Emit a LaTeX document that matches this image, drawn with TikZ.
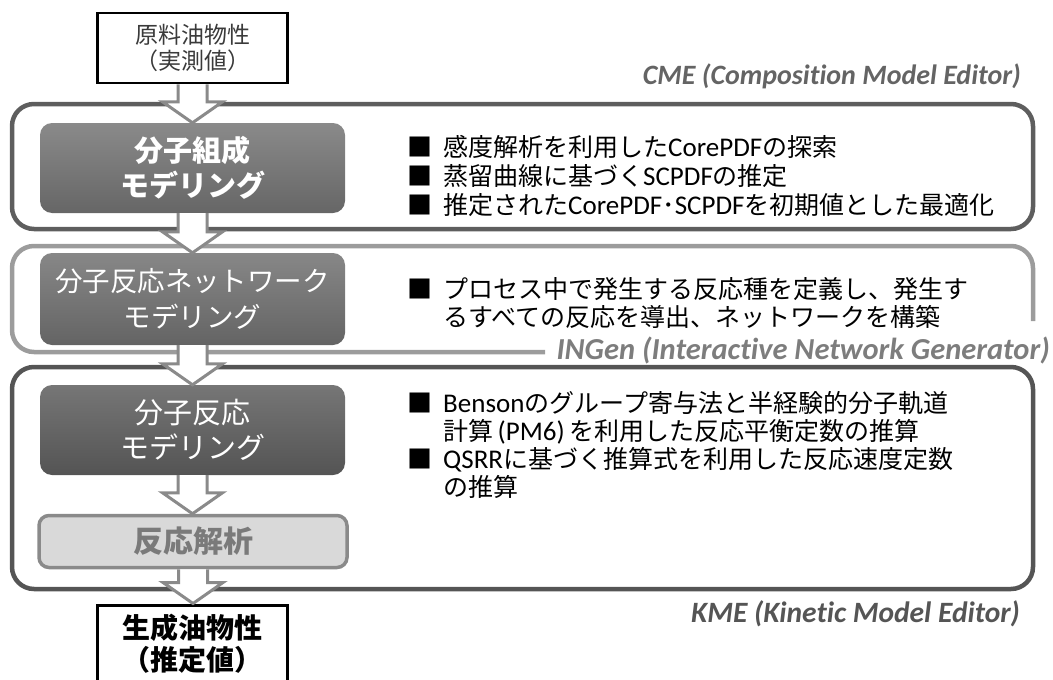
\documentclass[tikz,border=0pt]{standalone}
\usepackage{fontspec}
\setmainfont{Noto Sans CJK JP}
\newfontfamily\lat{Carlito}[Ligatures=NoCommon]
\newfontfamily\latb{Carlito}[Scale=1.08]
\usetikzlibrary{calc}
\definecolor{cmegray}{HTML}{5E5E5E}
\definecolor{ingray}{HTML}{9C9C9C}
\definecolor{kmegray}{HTML}{555555}
\definecolor{arrgray}{HTML}{8A8A8A}
\newcommand\blockarrow[2]{%
  \path[barrowfill] let \p1=(#1.south), \p2=(#2.north) in
    (\x1-14.5pt,\y1) -- (\x1-14.5pt,\y2+21pt) -- (\x1-30pt,\y2+21pt) -- (\x1,\y2)
    -- (\x1+30pt,\y2+21pt) -- (\x1+14.5pt,\y2+21pt) -- (\x1+14.5pt,\y1) -- cycle;
  \draw[barrowline] let \p1=(#1.south), \p2=(#2.north) in
    (\x1-14.5pt,\y1) -- (\x1-14.5pt,\y2+21pt) -- (\x1-30pt,\y2+21pt) -- (\x1,\y2)
    -- (\x1+30pt,\y2+21pt) -- (\x1+14.5pt,\y2+21pt) -- (\x1+14.5pt,\y1);}
\begin{document}
\begin{tikzpicture}[x=1pt,y=-1pt,
  cont/.style={line width=4.5pt, rounded corners=22pt},
  dbox/.style={rounded corners=12pt, minimum width=305pt, text=white, align=center, inner sep=0pt},
  barrowfill/.style={fill=white},
  barrowline/.style={draw=arrgray, line width=3pt, line join=miter},
  btxt/.style={anchor=base west, inner sep=0pt, font=\fontsize{25pt}{29pt}\selectfont, text=black},
  lbl/.style={anchor=east, inner sep=0pt, font=\lat\bfseries\itshape\fontsize{28pt}{32pt}\selectfont}]
\useasboundingbox (0,0) rectangle (1053,680);

% containers
\draw[cont, draw=cmegray] (12,104) rectangle (1033,229);
\draw[cont, draw=ingray] (545,352) -- (12,352) -- (12,246) -- (1033,246) -- (1033,321);
\draw[cont, draw=kmegray] (12,367) rectangle (1033,589);

% left column
\node[draw=black, line width=2.5pt, fill=white, minimum width=190pt, minimum height=70pt,
      align=center, inner sep=0pt, text={rgb,255:red,58;green,58;blue,58},
      font=\fontsize{23pt}{26pt}\selectfont] (src) at (192.5,48) {原料油物性\\（実測値）};
\node[dbox, top color={rgb,255:red,138;green,138;blue,138}, bottom color={rgb,255:red,102;green,102;blue,102},
      minimum height=90pt, font=\fontsize{29pt}{35pt}\selectfont\bfseries] (m1) at (192.5,168) {分子組成\\モデリング};
\node[dbox, top color={rgb,255:red,135;green,135;blue,135}, bottom color={rgb,255:red,100;green,100;blue,100},
      minimum height=92pt, font=\fontsize{27.5pt}{36pt}\selectfont] (m2) at (192.5,299) {分子反応ネットワーク\\モデリング};
\node[dbox, top color={rgb,255:red,118;green,118;blue,118}, bottom color={rgb,255:red,84;green,84;blue,84},
      minimum height=90pt, font=\fontsize{29pt}{35pt}\selectfont] (m3) at (192.5,430) {分子反応\\モデリング};
\node[rounded corners=10pt, draw=arrgray, line width=3.5pt, fill={rgb,255:red,217;green,217;blue,217},
      minimum width=308pt, minimum height=52pt, inner sep=0pt, text={rgb,255:red,122;green,122;blue,122},
      font=\fontsize{30pt}{34pt}\selectfont\bfseries] (m4) at (193,541.5) {反応解析};
\node[draw=black, line width=3pt, fill=white, minimum width=190pt, minimum height=100pt, inner sep=0pt] (dst) at (192.5,655) {};
\node[align=center, inner sep=0pt, text=black, font=\fontsize{28pt}{32pt}\selectfont\bfseries] (dsttxt) at (192.5,644) {生成油物性\\（推定値）};

% arrows
\blockarrow{src}{m1}
\blockarrow{m1}{m2}
\blockarrow{m2}{m3}
\blockarrow{m3}{m4}
\blockarrow{m4}{dst}

% labels
\node[lbl, text={rgb,255:red,100;green,100;blue,100}] (cme) at (1021,76) {CME (Composition Model Editor)};
\node[lbl, text={rgb,255:red,125;green,125;blue,125}, font=\lat\bfseries\itshape\fontsize{30.5pt}{34pt}\selectfont] (ingen) at (1050,350) {INGen (Interactive Network Generator)};
\node[lbl, text={rgb,255:red,85;green,85;blue,85}, font=\lat\bfseries\itshape\fontsize{29.5pt}{33pt}\selectfont] (kme) at (1020,614) {KME (Kinetic Model Editor)};

% bullets CME
\node[btxt] (cb1) at (407,156) {■};
\node[btxt] (ct1) at (443,156) {感度解析を利用した{\latb CorePDF}の探索};
\node[btxt] (cb2) at (407,185) {■};
\node[btxt] (ct2) at (443,185) {蒸留曲線に基づく{\latb SCPDF}の推定};
\node[btxt] (cb3) at (407,214) {■};
\node[btxt] (ct3) at (443,214) {推定された{\latb CorePDF}･{\latb SCPDF}を初期値とした最適化};
% bullets INGen
\node[btxt] (ib1) at (407,298) {■};
\node[btxt] (it1) at (443,298) {プロセス中で発生する反応種を定義し、発生す};
\node[btxt] (it2) at (443,326.5) {るすべての反応を導出、ネットワークを構築};
% bullets KME
\node[btxt] (kb1) at (407,412) {■};
\node[btxt] (kt1) at (443,412) {{\latb Benson}のグループ寄与法と半経験的分子軌道};
\node[btxt] (kt2) at (443,440) {計算{\latb\,(PM6)\,}を利用した反応平衡定数の推算};
\node[btxt] (kb2) at (407,468) {■};
\node[btxt] (kt3) at (443,468) {{\latb QSRR}に基づく推算式を利用した反応速度定数};
\node[btxt] (kt4) at (443,496) {の推算};
\end{tikzpicture}
\end{document}
